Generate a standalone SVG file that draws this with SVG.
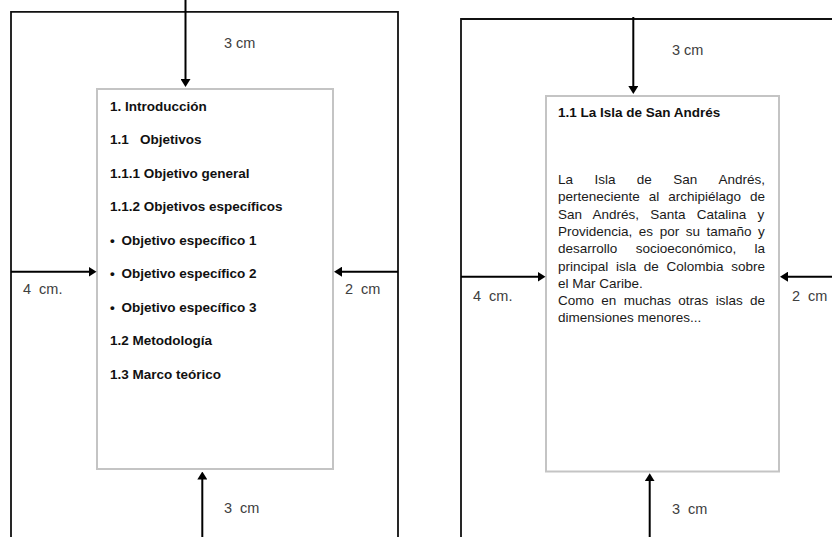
<svg xmlns="http://www.w3.org/2000/svg" width="832" height="537" viewBox="0 0 832 537">
<style>
.frame{fill:none;stroke:#111;stroke-width:1.8}
.box{fill:#fff;stroke:#c4c4c4;stroke-width:2}
.arr{stroke:#000;stroke-width:2;fill:none;marker-end:url(#ah)}
.h{font-family:"Liberation Sans",Arial,sans-serif;font-size:13.5px;font-weight:bold;fill:#111}
.p{font-family:"Liberation Sans",Arial,sans-serif;font-size:13.5px;fill:#1a1a1a}
.lbl{font-family:"Liberation Sans",Arial,sans-serif;font-size:14.5px;fill:#404040;white-space:pre}
</style>
<defs>
<marker id="ah" viewBox="0 0 8 10" markerWidth="8" markerHeight="10" refX="4" refY="5" orient="auto" markerUnits="userSpaceOnUse">
<path d="M0,0 L8,5 L0,10 z" fill="#000"/>
</marker>
</defs>
<rect width="832" height="537" fill="#fff"/>

<g id="left-page">
<path class="frame" d="M11,537 V11.8 H398 V537"/>
<rect class="box" x="97" y="89" width="236" height="380"/>
<text class="lbl" x="224" y="48">3 cm</text>
<text class="lbl" x="23" y="294" xml:space="preserve">4  cm.</text>
<text class="lbl" x="345" y="294" xml:space="preserve">2  cm</text>
<text class="lbl" x="224" y="513" xml:space="preserve">3  cm</text>
</g>

<g id="left-content">
<text class="h" x="110" y="110.5">1. Introducción</text>
<text class="h" y="144"><tspan x="110">1.1</tspan><tspan x="140">Objetivos</tspan></text>
<text class="h" x="110" y="177.5">1.1.1 Objetivo general</text>
<text class="h" x="110" y="211">1.1.2 Objetivos específicos</text>
<text class="h" y="244.5"><tspan x="110">•</tspan><tspan x="121.5">Objetivo específico 1</tspan></text>
<text class="h" y="278"><tspan x="110">•</tspan><tspan x="121.5">Objetivo específico 2</tspan></text>
<text class="h" y="311.5"><tspan x="110">•</tspan><tspan x="121.5">Objetivo específico 3</tspan></text>
<text class="h" x="110" y="345">1.2 Metodología</text>
<text class="h" x="110" y="378.5">1.3 Marco teórico</text>
</g>

<g id="right-page">
<path class="frame" d="M461,537 V19 H832"/>
<rect class="box" x="546" y="96" width="233" height="375.5"/>
<text class="lbl" x="672" y="55">3 cm</text>
<text class="lbl" x="473" y="301" xml:space="preserve">4  cm.</text>
<text class="lbl" x="792" y="301" xml:space="preserve">2  cm</text>
<text class="lbl" x="672" y="514" xml:space="preserve">3  cm</text>
</g>

<g id="right-content">
<text class="h" x="558" y="116.7">1.1 La Isla de San Andrés</text>
<text class="p" y="184"><tspan x="558">La</tspan><tspan x="594.4">Isla</tspan><tspan x="636.8">de</tspan><tspan x="673.2">San</tspan><tspan x="718.6">Andrés,</tspan></text>
<text class="p" x="558" y="201.3" style="word-spacing:5.2px">perteneciente al archipiélago de</text>
<text class="p" x="558" y="218.6" style="word-spacing:7.5px">San Andrés, Santa Catalina y</text>
<text class="p" x="558" y="235.9" style="word-spacing:2.8px">Providencia, es por su tamaño y</text>
<text class="p" x="558" y="253.2" style="word-spacing:14.6px">desarrollo socioeconómico, la</text>
<text class="p" x="558" y="270.5" style="word-spacing:3.9px">principal isla de Colombia sobre</text>
<text class="p" x="558" y="287.8">el Mar Caribe.</text>
<text class="p" x="558" y="305.1" style="word-spacing:3.6px">Como en muchas otras islas de</text>
<text class="p" x="558" y="322.4">dimensiones menores...</text>
</g>

<g id="connectors">
<line class="arr" x1="185.5" y1="0" x2="185.5" y2="83"/>
<line class="arr" x1="11" y1="271.7" x2="92.5" y2="271.7"/>
<line class="arr" x1="398" y1="271.7" x2="338" y2="271.7"/>
<line class="arr" x1="202.3" y1="537" x2="202.3" y2="475.5"/>
<line class="arr" x1="633.3" y1="17" x2="633.3" y2="90"/>
<line class="arr" x1="461" y1="276.7" x2="541.5" y2="276.7"/>
<line class="arr" x1="832" y1="276.7" x2="784" y2="276.7"/>
<line class="arr" x1="649.7" y1="537" x2="649.7" y2="477.3"/>
</g>
</svg>
